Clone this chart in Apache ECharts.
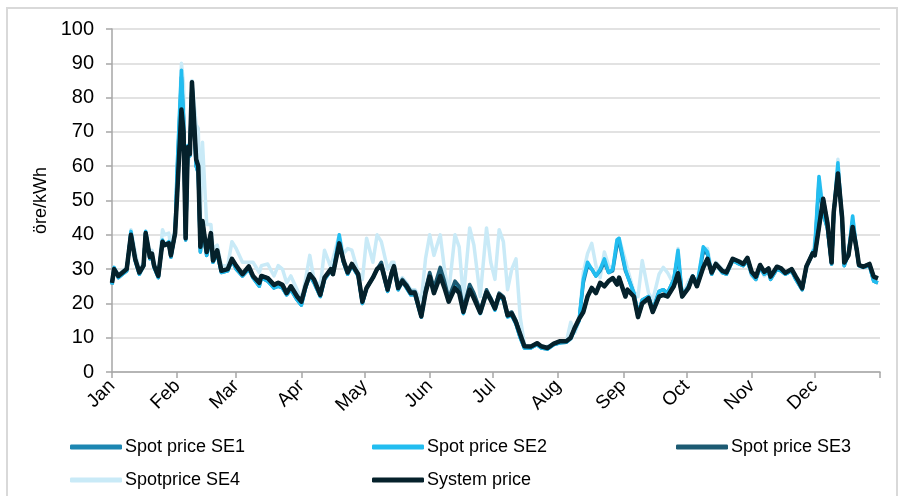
<!DOCTYPE html>
<html>
<head>
<meta charset="utf-8">
<script src="https://cdn.jsdelivr.net/npm/echarts@6/dist/echarts.min.js"></script>
<style>
  html, body { margin: 0; padding: 0; background: #fff; }
  #chart { width: 903px; height: 496px; }
</style>
</head>
<body>
<div id="chart"></div>
<script>
// day of year for each sample
const days = [
  0, 1, 3, 5, 7, 9, 11, 13, 15, 16,
  18, 19, 20, 22, 24, 25, 27, 28, 30, 31,
  33, 34, 35, 36, 37, 38, 40, 41, 42, 43,
  45, 47, 48, 50, 52, 55, 57, 59, 62, 65,
  67, 70, 71, 74, 77, 79, 81, 83, 85, 88,
  90, 92, 94, 96, 99, 101, 104, 105, 108, 110,
  112, 114, 117, 119, 121, 124, 126, 128, 131, 133,
  134, 136, 138, 140, 142, 144, 147, 149, 151, 153,
  156, 158, 160, 163, 165, 167, 170, 172, 175, 178,
  180, 182, 184, 186, 188, 190, 192, 194, 196, 199,
  202, 204, 207, 210, 213, 216, 218, 220, 222, 224,
  226, 228, 230, 232, 234, 236, 238, 240, 241, 244,
  245, 248, 250, 252, 255, 257, 260, 262, 264, 267,
  269, 271, 274, 276, 278, 281, 283, 285, 287, 290,
  292, 295, 298, 300, 302, 304, 306, 308, 310, 312,
  313, 316, 318, 320, 323, 325, 326, 328, 330, 333,
  334, 336, 338, 340, 342, 343, 345, 347, 348, 350,
  352, 354, 355, 357, 360, 362, 364
];

const se1 = [
  25.5, 30, 27.5, 28.5, 29.5, 40.5, 32.5, 28.5, 31, 40.5,
  33, 34, 30.5, 27.5, 38, 37, 37.5, 33.5, 40.5, 58,
  86, 74, 38.5, 65, 63, 84, 60, 58, 35, 42,
  34, 39.5, 32, 34.5, 29, 29.5, 32.5, 30, 28, 30,
  27.5, 25, 27.5, 26.5, 24.5, 25, 24.5, 22.5, 24, 21,
  19.5, 24.5, 28, 26, 22, 27, 29.5, 28.5, 39, 32,
  28.5, 31, 28, 20, 24.5, 27.5, 30, 31, 23.5, 29,
  30.5, 24, 26.5, 24.5, 22.5, 22.5, 16, 23.5, 28.5, 23.5,
  29.5, 25.5, 21, 25.5, 24, 17.5, 25, 22.5, 17.5, 23.5,
  21.5, 18.5, 22.5, 21.5, 16.5, 16.5, 14, 10, 7, 7,
  8, 7, 6.7, 8, 8.5, 8.7, 9.7, 12.5, 15, 26,
  31, 30, 28, 29.5, 32, 29, 29.5, 37, 38, 29.5,
  28, 23, 17, 21, 22, 18, 23.5, 24, 23, 27,
  34, 22, 25, 28, 25, 35, 34.5, 28.5, 31.5, 29,
  28.5, 32.5, 31.5, 31, 32.5, 28.5, 27, 30.5, 28.5, 29.5,
  27, 30, 29.5, 28.5, 29.5, 27, 26, 24, 30.5, 34.5,
  35.5, 55, 46, 42, 31.5, 46, 59, 44, 31, 34.5,
  44, 35, 31, 30.5, 31, 26.5, 26
];

const se2 = [
  25.5, 30.5, 27.5, 28.5, 29.5, 41, 32.5, 28.5, 31, 41,
  33, 34, 30.5, 27.5, 38.5, 37, 38, 33.5, 41, 60,
  88, 74, 38.5, 66, 63, 84, 60, 58, 35, 42,
  34, 39.5, 32, 34.5, 29, 29.5, 32.5, 30, 28, 30,
  27.5, 25, 27.5, 26.5, 24.5, 25, 24.5, 22.5, 24, 21,
  19.5, 24.5, 28.5, 26, 22, 27, 29.5, 28.5, 40, 32,
  28.5, 31, 28, 20, 24.5, 27.5, 30, 31, 23.5, 29,
  30.5, 24, 26.5, 24.5, 22.5, 22.5, 16, 23, 28, 23,
  29, 25, 20.5, 25, 23.5, 17, 24.5, 22, 17, 23,
  21, 18, 22, 21, 16, 16.5, 14, 10, 7, 7,
  8, 7, 6.7, 8, 8.5, 8.7, 9.7, 12.5, 15, 27,
  32, 30, 28, 30, 33, 29, 30, 38.5, 39, 30,
  28, 23, 17, 21, 22, 18, 23.5, 24, 23, 27,
  35.5, 22, 25, 28, 25, 36.5, 35, 28.5, 31.5, 29,
  28.5, 32.5, 31.5, 31, 32.5, 28.5, 27, 30.5, 28.5, 29.5,
  27, 30, 29.5, 28.5, 29.5, 27, 26, 24, 30.5, 35,
  36, 57, 46, 42, 31.5, 46, 61, 44, 31, 34.5,
  45.5, 35, 31, 30.5, 31, 26.5, 26
];

const se3 = [
  26, 30, 28, 29, 30, 40, 33, 29, 31, 40.5,
  33.5, 34.5, 31, 28, 38, 37, 37.5, 34, 40.5, 52,
  76, 70, 39, 65.5, 63.5, 84.5, 62, 60, 36.5, 44,
  35, 40.5, 32.5, 35.5, 29.5, 30, 33, 31, 28.5, 30.8,
  28, 26, 28, 27.4, 25.4, 26, 25.4, 23, 25, 22,
  20.5, 25, 28.5, 27, 22.5, 27.5, 30, 28.5, 37.5, 32.5,
  29, 31.5, 28.5, 20.5, 24.5, 27.5, 30, 32, 24.5, 29.5,
  31, 25, 27, 25.5, 23.5, 23.5, 16.5, 24, 29, 24.5,
  30.5, 26.5, 21.5, 26.5, 25, 18.5, 25.5, 23, 18, 24,
  21.5, 19, 23, 22, 17, 17.5, 15, 11, 7.5, 7.4,
  8.4, 7.5, 7, 8.3, 9, 9, 10, 13, 15.5, 17.5,
  22, 24.5, 23, 26, 25, 26.5, 27.4, 25.5, 27.5, 22,
  24, 22, 16, 20, 21.5, 17.5, 22, 22.5, 22, 25,
  28.8, 22, 24.5, 27.8, 25, 30.5, 33, 29, 31.5, 29.5,
  29, 33, 32.2, 31.5, 33.3, 29.2, 27.8, 31.2, 29.2, 30.2,
  27.8, 30.7, 30.2, 28.9, 30, 27.8, 26.8, 24.4, 30.8, 34.6,
  34, 42.2, 50.5, 43.5, 31.9, 46.5, 57.9, 45, 31.9, 34,
  42.3, 35.5, 31.2, 30.7, 31.5, 27.8, 27.3
];

const se4 = [
  27, 30.5, 28.5, 29.5, 30.5, 41.5, 35, 29.5, 32, 41,
  35, 35.5, 32, 28.5, 41.5, 40, 40.5, 36, 42, 60,
  90, 84, 42, 60, 65, 85, 72, 71, 45, 67,
  43, 43, 36, 37, 31, 31, 38, 36, 32, 32,
  32, 29, 31, 31.5, 28, 31, 30, 26, 28, 24,
  21, 27, 34, 27, 25, 35.5, 30.5, 33, 40, 34.5,
  36, 35.5, 29, 27, 39, 32, 40, 38, 30, 32,
  32, 26, 27.5, 26, 24, 24, 21, 33, 40, 34,
  40, 30, 23, 40, 36.5, 21.5, 42, 37, 22, 42,
  32, 27, 41.5, 38, 24, 30, 33, 16, 8, 7,
  8, 7, 7.5, 8, 8.5, 9, 14.5, 11.5, 15, 29,
  34.5, 37.5, 31, 27.5, 35, 31, 30, 38.5, 39, 32.5,
  30, 23.5, 22, 32.5, 23, 21, 28.5, 30.5, 29, 25.5,
  36, 22, 26.5, 28, 26, 36, 36, 29.5, 32, 30,
  29, 33, 32, 31, 32.5, 28, 27, 30.5, 28, 29,
  27, 30, 29.5, 28.5, 29.5, 27, 26, 24, 30.5, 35,
  38, 57, 48, 42, 31.5, 46, 62, 44, 31, 34.5,
  45.5, 35, 31, 30.5, 31, 26.5, 26
];

const systemPrice = [
  26, 30, 28, 29, 30, 40, 33, 29, 31, 40.5,
  33.5, 34.5, 31, 28, 38, 37, 37.5, 34, 40.5, 52,
  76.5, 70, 39, 65.5, 63.5, 84.5, 62, 60, 36.5, 44,
  35, 40.5, 32.5, 35.5, 29.5, 30, 33, 31, 28.5, 30.8,
  28, 26, 28, 27.4, 25.4, 26, 25.4, 23, 25, 22,
  20.5, 25, 28.5, 27, 22.5, 27.5, 30, 28.5, 37.5, 32.5,
  29, 31.5, 28.5, 20.5, 24.5, 27.5, 30, 31, 24, 29,
  30.8, 24.5, 26.5, 25, 23, 23, 16.2, 23, 27.8, 23,
  28, 24.5, 20.5, 24.5, 23, 17.5, 24, 21.5, 17.3, 23.2,
  21, 18.5, 22.5, 21.5, 16.5, 17, 14.5, 11, 7.5, 7.4,
  8.4, 7.5, 7, 8.3, 9, 9, 10, 13, 15.5, 17.5,
  22, 24.5, 23, 26, 25, 26.5, 27.4, 25.5, 27.5, 22,
  24, 22, 16, 20, 21.5, 17.5, 22, 22.5, 22, 25,
  28.8, 22, 24.5, 27.8, 25, 30.5, 33, 29, 31.5, 29.5,
  29, 33, 32.2, 31.5, 33.3, 29.2, 27.8, 31.2, 29.2, 30.2,
  27.8, 30.7, 30.2, 28.9, 30, 27.8, 26.8, 24.4, 30.8, 34.6,
  34, 42.2, 50.5, 43.5, 31.9, 46.5, 57.9, 45, 31.9, 34,
  42.3, 35.5, 31.2, 30.7, 31.5, 27.8, 27.3
];

const monthStarts = [0, 31, 59, 90, 120, 151, 181, 212, 243, 273, 304, 334, 365];
const monthNames = ["Jan", "Feb", "Mar", "Apr", "May", "Jun", "Jul", "Aug", "Sep", "Oct", "Nov", "Dec"];

const colors = {
  "Spot price SE1": "#1c86b2",
  "Spot price SE2": "#22bdf0",
  "Spot price SE3": "#1c5a72",
  "Spotprice SE4": "#c9eaf7",
  "System price": "#05212b",
};

const FONT = "Liberation Sans";
const chart = echarts.init(document.getElementById("chart"));

function pairs(vals) {
  return days.map((d, i) => [d, vals[i]]);
}

function legendAt(name, left, top) {
  return {
    data: [name],
    left: left,
    top: top,
    icon: "roundRect",
    itemWidth: 52,
    itemHeight: 5,
    itemGap: 0,
    padding: 0,
    textStyle: { fontFamily: FONT, fontSize: 18, color: "#000", padding: [0, 0, 0, -2] },
  };
}

let option = {
  animation: false,
  backgroundColor: "#fff",
  graphic: [
    {
      type: "rect",
      shape: { x: 7, y: 8, width: 890, height: 520 },
      style: { fill: "none", stroke: "#d9d9d9", lineWidth: 2 },
      silent: true,
    },
  ],
  grid: { left: 112, right: 23, top: 29, bottom: 124 },
  legend: [
    legendAt("Spot price SE1", 70, 438),
    legendAt("Spot price SE2", 372, 438),
    legendAt("Spot price SE3", 676, 438),
    legendAt("Spotprice SE4", 70, 471),
    legendAt("System price", 372, 471),
  ],
  xAxis: {
    type: "value",
    min: 0,
    max: 365,
    splitLine: { show: false },
    axisLine: { lineStyle: { color: "#a6a6a6", width: 1.5 } },
    axisTick: {
      customValues: monthStarts,
      length: 6,
      lineStyle: { color: "#a6a6a6", width: 1.5 },
    },
    axisLabel: {
      customValues: monthStarts.slice(0, 12),
      formatter: (v) => monthNames[monthStarts.indexOf(v)],
      rotate: 45,
      margin: 11,
      fontFamily: FONT,
      fontSize: 19,
      color: "#000",
    },
  },
  yAxis: {
    type: "value",
    min: 0,
    max: 100,
    interval: 10,
    name: "öre/kWh",
    nameLocation: "middle",
    nameGap: 62,
    nameTextStyle: { fontFamily: FONT, fontSize: 18, color: "#000" },
    axisLine: { show: true, lineStyle: { color: "#a6a6a6", width: 1.5 } },
    axisTick: { show: true, length: 6, lineStyle: { color: "#a6a6a6", width: 1.5 } },
    splitLine: { lineStyle: { color: "#d9d9d9", width: 1.5 } },
    axisLabel: { fontFamily: FONT, fontSize: 20, color: "#000", margin: 18 },
  },
  series: [
    { name: "Spotprice SE4", vals: se4, w: 3.5 },
    { name: "Spot price SE1", vals: se1, w: 3.5 },
    { name: "Spot price SE2", vals: se2, w: 3.5 },
    { name: "Spot price SE3", vals: se3, w: 3.5 },
    { name: "System price", vals: systemPrice, w: 4.5 },
  ].map((s) => ({
    name: s.name,
    type: "line",
    symbol: "none",
    data: pairs(s.vals),
    color: colors[s.name],
    lineStyle: { color: colors[s.name], width: s.w, join: "round" },
  })),
};

chart.setOption(option);
</script>
</body>
</html>
